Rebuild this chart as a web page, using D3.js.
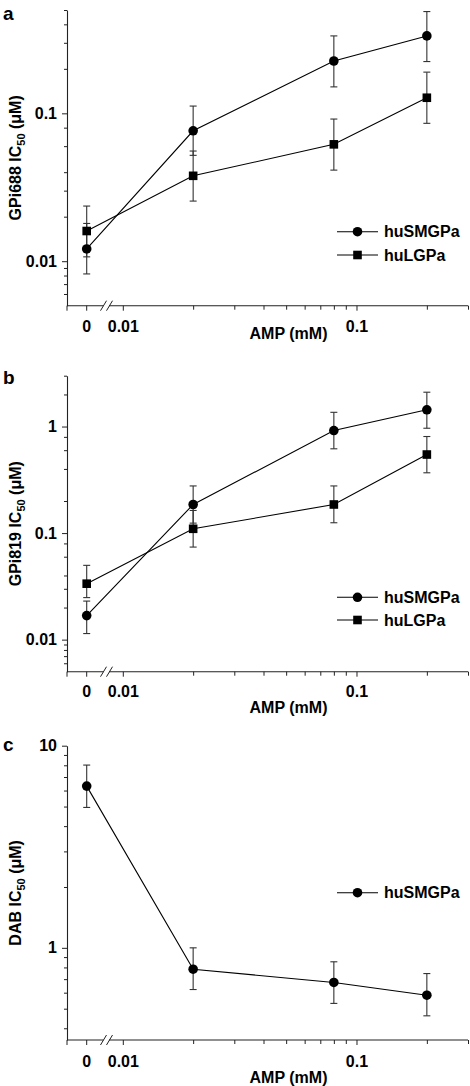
<!DOCTYPE html>
<html><head><meta charset="utf-8">
<script src="https://cdn.jsdelivr.net/npm/d3@7/dist/d3.min.js"></script>
<style>
body{margin:0;background:#fff}
svg{display:block}
text{font-family:"Liberation Sans",Arial,Helvetica,sans-serif;font-weight:bold;fill:#000}
</style>
</head><body>
<svg id="chart" width="470" height="1086"></svg>
<script>
// ---- data ----
const amp = [0, 0.02, 0.08, 0.2];
const xTickMajor = [0.01, 0.1];
const xTickMajorLabels = ["0.01", "0.1"];
const xTickMinor = [0.02, 0.03, 0.04, 0.05, 0.06, 0.07, 0.08, 0.09, 0.2, 0.3];
const xZeroLabel = "0";
const xTitle = "AMP (mM)";
const seriesNames = ["huSMGPa", "huLGPa"];

// panel a: GPi688
const aSM   = [0.0121, 0.0762, 0.226, 0.334];
const aSMhi = [0.018, 0.112, 0.334, 0.488];
const aSMlo = [0.0082, 0.052, 0.151, 0.224];
const aLG   = [0.016, 0.0378, 0.0617, 0.1275];
const aLGhi = [0.0236, 0.0556, 0.0915, 0.19];
const aLGlo = [0.0107, 0.0255, 0.0413, 0.0856];
const aYMajor = [0.01, 0.1];
const aYMajorLabels = ["0.01", "0.1"];
const aYMinor = [0.006, 0.007, 0.008, 0.009, 0.02, 0.03, 0.04, 0.06, 0.08, 0.2, 0.3, 0.4, 0.5];

// panel b: GPi819
const bSM   = [0.0168, 0.1855, 0.917, 1.435];
const bSMhi = [0.023, 0.277, 1.36, 2.1];
const bSMlo = [0.0114, 0.124, 0.618, 0.964];
const bLG   = [0.0335, 0.1097, 0.1855, 0.546];
const bLGhi = [0.0498, 0.163, 0.277, 0.806];
const bLGlo = [0.0248, 0.0739, 0.125, 0.368];
const bYMajor = [0.01, 0.1, 1];
const bYMajorLabels = ["0.01", "0.1", "1"];
const bYMinor = [0.006, 0.007, 0.008, 0.009, 0.02, 0.03, 0.04, 0.06, 0.08, 0.2, 0.4, 0.6, 0.8, 2, 3];

// panel c: DAB
const cSM   = [6.31, 0.784, 0.674, 0.583];
const cSMhi = [8.02, 1.0, 0.853, 0.746];
const cSMlo = [4.95, 0.622, 0.531, 0.461];
const cYMajor = [1, 10];
const cYMajorLabels = ["1", "10"];
const cYMinor = [0.4, 0.5, 0.6, 0.7, 0.8, 0.9, 2, 3, 4, 5, 6, 7, 8, 9];

// ---- layout ----
const X0 = 67, XEND = 468;
const xZeroPos = 86.7;
const xl = d3.scaleLog().domain([0.01, 0.3]).range([122.8, 468]);
const xp = v => v === 0 ? xZeroPos : xl(v);

const panels = [
  {label: "a", labelY: 20, yTitle: "GPi688", top: 10, bottom: 305.7, yDomain: [0.005, 0.5],
   yMajor: aYMajor, yMajorLabels: aYMajorLabels, yMinor: aYMinor,
   series: [{name: seriesNames[0], shape: "circle", v: aSM, hi: aSMhi, lo: aSMlo},
            {name: seriesNames[1], shape: "square", v: aLG, hi: aLGhi, lo: aLGlo}],
   legendY: [231.7, 255], tickDy: 26.5, titleDy: 33},
  {label: "b", labelY: 384, yTitle: "GPi819", top: 375.7, bottom: 671.7, yDomain: [0.005, 3],
   yMajor: bYMajor, yMajorLabels: bYMajorLabels, yMinor: bYMinor,
   series: [{name: seriesNames[0], shape: "circle", v: bSM, hi: bSMhi, lo: bSMlo},
            {name: seriesNames[1], shape: "square", v: bLG, hi: bLGhi, lo: bLGlo}],
   legendY: [597.3, 620], tickDy: 25.5, titleDy: 41.6},
  {label: "c", labelY: 751, yTitle: "DAB", top: 745.7, bottom: 1040, yDomain: [0.35, 10],
   yMajor: cYMajor, yMajorLabels: cYMajorLabels, yMinor: cYMinor,
   series: [{name: seriesNames[0], shape: "circle", v: cSM, hi: cSMhi, lo: cSMlo}],
   legendY: [892.7], tickDy: 26.7, titleDy: 43.3}
];

const svg = d3.select("#chart");
const AX = "#222";

panels.forEach(p => {
  const g = svg.append("g");
  const y = d3.scaleLog().domain(p.yDomain).range([p.bottom, p.top]);

  // panel letter
  g.append("text").attr("x", 3).attr("y", p.labelY).style("font-size", "19px").text(p.label);

  // y axis major
  const labelMap = new Map(p.yMajor.map((v, i) => [v, p.yMajorLabels[i]]));
  const ya = g.append("g").attr("transform", `translate(${X0},0)`)
    .call(d3.axisLeft(y).tickValues(p.yMajor).tickFormat(d => labelMap.get(d))
      .tickSize(5).tickPadding(5).tickSizeOuter(0));
  ya.select(".domain").attr("stroke", AX).attr("stroke-width", 1.1);
  ya.selectAll(".tick line").attr("stroke", AX);
  ya.selectAll(".tick text").style("font-size", "16px");
  ya.attr("font-family", null).attr("font-size", null);
  // y axis minor
  const ym = g.append("g").attr("transform", `translate(${X0},0)`)
    .call(d3.axisLeft(y).tickValues(p.yMinor).tickFormat("").tickSize(3).tickSizeOuter(0));
  ym.select(".domain").remove();
  ym.selectAll(".tick line").attr("stroke", AX);

  // y title
  const cy = (p.top + p.bottom) / 2;
  const t = g.append("text").attr("transform", `translate(21,${cy}) rotate(-90)`)
    .attr("text-anchor", "middle").style("font-size", "16px");
  t.append("tspan").text(p.yTitle + " IC");
  t.append("tspan").attr("dy", 4).style("font-size", "11px").text("50");
  t.append("tspan").attr("dy", -4).text(" (\u03bcM)");

  // x axis (log part through scale)
  const xa = g.append("g").attr("transform", `translate(0,${p.bottom})`)
    .call(d3.axisBottom(xl).tickValues(xTickMinor).tickFormat("").tickSize(4).tickSizeOuter(0));
  xa.select(".domain").remove();
  xa.selectAll(".tick line").attr("stroke", AX);
  const xMajMap = new Map(xTickMajor.map((v, i) => [v, xTickMajorLabels[i]]));
  const xb = g.append("g").attr("transform", `translate(0,${p.bottom})`)
    .call(d3.axisBottom(xl).tickValues(xTickMajor).tickFormat(d => xMajMap.get(d)).tickSize(5).tickSizeOuter(0));
  xb.select(".domain").remove();
  xb.selectAll(".tick line").attr("stroke", AX);
  xb.selectAll(".tick text").attr("y", p.tickDy).attr("dy", 0).style("font-size", "16px");
  xb.attr("font-family", null).attr("font-size", null);

  // axis baseline
  g.append("line").attr("x1", X0).attr("x2", XEND).attr("y1", p.bottom).attr("y2", p.bottom)
    .attr("stroke", AX).attr("stroke-width", 1.1);
  // left-end tick and zero tick
  [X0, xp(0)].forEach(xx => g.append("line").attr("x1", xx).attr("x2", xx)
    .attr("y1", p.bottom).attr("y2", p.bottom + 5).attr("stroke", AX));
  g.append("text").attr("x", xp(0)).attr("y", p.bottom + p.tickDy).attr("text-anchor", "middle")
    .style("font-size", "16px").text(xZeroLabel);
  // axis break
  g.append("rect").attr("x", 103.5).attr("y", p.bottom - 2).attr("width", 5.5).attr("height", 4).attr("fill", "#fff");
  [100.5, 106.5].forEach(bx => g.append("line").attr("x1", bx).attr("y1", p.bottom + 5)
    .attr("x2", bx + 6).attr("y2", p.bottom - 5).attr("stroke", AX).attr("stroke-width", 1));

  // x title
  g.append("text").attr("x", 288.5).attr("y", p.bottom + p.titleDy).attr("text-anchor", "middle")
    .style("font-size", "16px").text(xTitle);

  // series
  p.series.forEach(s => {
    const pts = amp.map((a, i) => ({x: a, v: s.v[i], hi: s.hi[i], lo: s.lo[i]}));
    g.append("path").datum(pts).attr("fill", "none").attr("stroke", "#000").attr("stroke-width", 1.1)
      .attr("d", d3.line().x(d => xp(d.x)).y(d => y(d.v)));
    const eb = g.append("g").attr("stroke", "#333").attr("stroke-width", 1.1);
    pts.forEach(d => {
      const xx = xp(d.x);
      eb.append("line").attr("x1", xx).attr("x2", xx).attr("y1", y(d.lo)).attr("y2", y(d.hi));
      [d.lo, d.hi].forEach(e => eb.append("line").attr("x1", xx - 3.5).attr("x2", xx + 3.5)
        .attr("y1", y(e)).attr("y2", y(e)));
    });
  });
  const drawMarker = (sel, shape, cx, cy2) => {
    if (shape === "circle") sel.append("circle").attr("cx", cx).attr("cy", cy2).attr("r", 4.8).attr("fill", "#000");
    else sel.append("rect").attr("x", cx - 4.3).attr("y", cy2 - 4.3).attr("width", 8.6).attr("height", 8.6).attr("fill", "#000");
  };
  p.series.forEach(s => {
    amp.forEach((a, i) => drawMarker(g, s.shape, xp(a), y(s.v[i])));
  });

  // legend
  p.series.forEach((s, i) => {
    const ly = p.legendY[i];
    g.append("line").attr("x1", 337).attr("x2", 378).attr("y1", ly).attr("y2", ly).attr("stroke", "#000").attr("stroke-width", 1.1);
    drawMarker(g, s.shape, 357.5, ly);
    g.append("text").attr("x", 384).attr("y", ly + 5.6).style("font-size", "16px").text(s.name);
  });
});
</script>
</body></html>
